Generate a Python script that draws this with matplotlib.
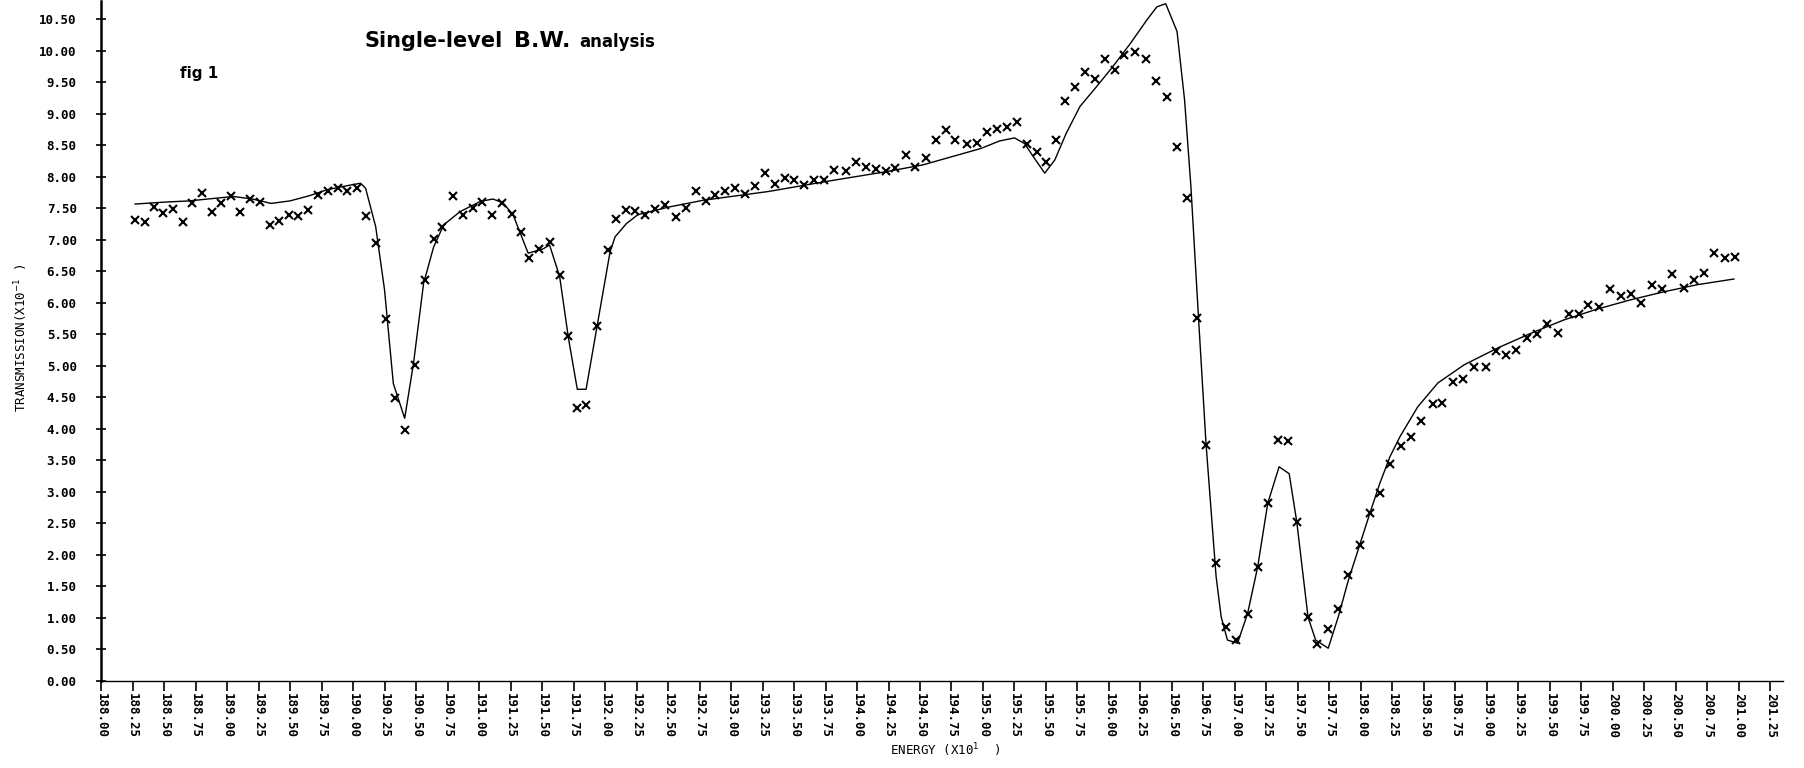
import numpy as np
import matplotlib
matplotlib.use("Agg")
import matplotlib.pyplot as plt

# measured transmission points (energy x10, transmission x10^-1)
energy = [
    188.27, 188.35, 188.42, 188.49, 188.57, 188.65, 188.72, 188.80, 188.88, 188.95,
    189.03, 189.10, 189.18, 189.26, 189.34, 189.41, 189.49, 189.56, 189.64, 189.72,
    189.80, 189.88, 189.95, 190.03, 190.10, 190.18, 190.26, 190.33, 190.41, 190.49,
    190.57, 190.64, 190.71, 190.79, 190.87, 190.95, 191.02, 191.10, 191.18, 191.26,
    191.33, 191.40, 191.48, 191.56, 191.64, 191.71, 191.78, 191.85, 191.94, 192.02,
    192.09, 192.17, 192.24, 192.32, 192.40, 192.48, 192.56, 192.64, 192.72, 192.80,
    192.87, 192.95, 193.03, 193.11, 193.19, 193.27, 193.35, 193.43, 193.50, 193.58,
    193.66, 193.74, 193.82, 193.91, 193.99, 194.07, 194.15, 194.23, 194.30, 194.39,
    194.46, 194.55, 194.63, 194.71, 194.78, 194.87, 194.95, 195.03, 195.11, 195.19,
    195.27, 195.35, 195.43, 195.50, 195.58, 195.65, 195.73, 195.81, 195.89, 195.97,
    196.05, 196.12, 196.21, 196.29, 196.37, 196.46, 196.54, 196.62, 196.70, 196.77,
    196.85, 196.93, 197.01, 197.10, 197.18, 197.26, 197.34, 197.42, 197.49, 197.58,
    197.65, 197.74, 197.82, 197.90, 197.99, 198.07, 198.15, 198.23, 198.32, 198.40,
    198.48, 198.57, 198.64, 198.73, 198.81, 198.90, 198.99, 199.07, 199.15, 199.23,
    199.32, 199.40, 199.48, 199.56, 199.65, 199.73, 199.80, 199.89, 199.98, 200.06,
    200.14, 200.22, 200.31, 200.39, 200.47, 200.56, 200.64, 200.72, 200.80, 200.89,
    200.97,
]
transmission = [
    7.31, 7.28, 7.53, 7.42, 7.49, 7.29, 7.58, 7.75, 7.44, 7.58,
    7.69, 7.44, 7.65, 7.61, 7.24, 7.30, 7.39, 7.38, 7.48, 7.72,
    7.77, 7.82, 7.77, 7.82, 7.38, 6.95, 5.75, 4.49, 3.98, 5.02,
    6.37, 7.02, 7.20, 7.69, 7.40, 7.50, 7.61, 7.40, 7.59, 7.41,
    7.13, 6.72, 6.85, 6.97, 6.44, 5.47, 4.33, 4.38, 5.64, 6.84,
    7.33, 7.48, 7.46, 7.40, 7.49, 7.56, 7.36, 7.50, 7.77, 7.62,
    7.71, 7.78, 7.82, 7.73, 7.86, 8.06, 7.89, 7.99, 7.95, 7.87,
    7.95, 7.95, 8.11, 8.10, 8.24, 8.16, 8.12, 8.10, 8.14, 8.35,
    8.16, 8.30, 8.58, 8.75, 8.59, 8.52, 8.54, 8.72, 8.76, 8.80,
    8.88, 8.53, 8.39, 8.24, 8.58, 9.20, 9.43, 9.67, 9.56, 9.87,
    9.69, 9.93, 9.99, 9.87, 9.52, 9.27, 8.47, 7.66, 5.76, 3.75,
    1.87, 0.86, 0.65, 1.07, 1.81, 2.82, 3.83, 3.81, 2.53, 1.01,
    0.58, 0.82, 1.15, 1.68, 2.16, 2.66, 2.98, 3.44, 3.73, 3.87,
    4.12, 4.40, 4.42, 4.74, 4.80, 4.99, 4.98, 5.23, 5.17, 5.25,
    5.45, 5.51, 5.66, 5.53, 5.83, 5.83, 5.97, 5.93, 6.22, 6.11,
    6.14, 6.00, 6.29, 6.22, 6.46, 6.23, 6.37, 6.48, 6.80, 6.72,
    6.73,
]

# single-level Breit-Wigner fit curve
fit_energy = [
    188.27, 188.50, 188.70, 188.90, 189.05, 189.20, 189.35, 189.50, 189.65, 189.80,
    189.95, 190.06, 190.10, 190.18, 190.25, 190.32, 190.41, 190.48, 190.56, 190.64,
    190.72, 190.85, 191.01, 191.11, 191.19, 191.27, 191.39, 191.51, 191.56, 191.64,
    191.71, 191.78, 191.85, 191.95, 192.04, 192.08, 192.17, 192.26, 192.50, 192.78,
    193.30, 193.76, 194.22, 194.52, 194.98, 195.13, 195.25, 195.33, 195.40, 195.49,
    195.57, 195.66, 195.77, 195.90, 196.03, 196.17, 196.30, 196.38, 196.45, 196.54,
    196.60, 196.65, 196.71, 196.77, 196.85, 196.89, 196.94, 197.02, 197.10, 197.18,
    197.26, 197.35, 197.43, 197.49, 197.58, 197.64, 197.74, 197.82, 197.90, 197.99,
    198.07, 198.15, 198.23, 198.31, 198.45, 198.61, 198.82, 199.09, 199.35, 199.61,
    199.87, 200.14, 200.41, 200.67, 200.96,
]
fit_transmission = [
    7.57, 7.60, 7.62, 7.66, 7.69, 7.65, 7.58, 7.62, 7.70, 7.80,
    7.86, 7.90, 7.82, 7.21, 6.21, 4.72, 4.17, 5.04, 6.31, 6.89,
    7.24, 7.45, 7.61, 7.65, 7.59, 7.40, 6.79, 6.86, 6.92, 6.42,
    5.44, 4.63, 4.63, 5.78, 6.81, 7.05, 7.26, 7.40, 7.52, 7.63,
    7.77, 7.93, 8.08, 8.19, 8.45, 8.57, 8.62, 8.53, 8.32, 8.06,
    8.27, 8.69, 9.12, 9.43, 9.75, 10.12, 10.49, 10.70, 10.75, 10.31,
    9.22, 7.85, 5.78, 3.77, 1.66, 1.02, 0.65, 0.60, 1.07, 1.81,
    2.82, 3.40, 3.29, 2.53, 1.01, 0.65, 0.52, 1.02, 1.60, 2.16,
    2.66, 3.14, 3.56, 3.88, 4.35, 4.73, 5.02, 5.29, 5.52, 5.73,
    5.90, 6.05, 6.18, 6.29, 6.38,
]

x_ticks = np.arange(188.0, 201.26, 0.25)
y_ticks = np.arange(0.0, 10.51, 0.5)

MONO = "DejaVu Sans Mono"

fig = plt.figure(figsize=(18.04, 7.68), dpi=100)
ax = fig.add_axes([0.056, 0.1133, 0.9324, 0.886])

ax.plot(fit_energy, fit_transmission, color="black", linewidth=1.0, clip_on=False)
ax.plot(energy, transmission, linestyle="none", marker="x", color="black",
        markersize=6, markeredgewidth=1.5)

ax.set_xlim(188.0, 201.35)
ax.set_ylim(0.0, 10.8)

# ─── axes look like an old pen plotter ─────────────
for side in ("top", "right"):
    ax.spines[side].set_visible(False)
ax.spines["left"].set_linewidth(1.8)
ax.spines["bottom"].set_linewidth(1.0)

ax.set_xticks(x_ticks)
ax.set_xticklabels([f"{v:.2f}" for v in x_ticks], rotation=270,
                   family=MONO, fontsize=9, fontweight="bold")
ax.set_yticks(y_ticks)
ax.set_yticklabels([f"{v:.2f}" for v in y_ticks],
                   family=MONO, fontsize=9, fontweight="bold")
ax.tick_params(axis="x", direction="out", length=7, width=1.2, pad=2)
ax.tick_params(axis="y", direction="inout", length=7, width=1.2, pad=14)

fig.text(0.0116, 0.56, "TRANSMISSION(X10$^{-1}$ )", rotation=90,
         ha="center", va="center", family=MONO, fontsize=9)
fig.text(0.524, 0.023, "ENERGY (X10$^{1}$  )", ha="center", va="center",
         family=MONO, fontsize=9)

# title pieces
fig.text(364 / 1804, 1 - 47 / 768, "Single-level", ha="left", va="baseline",
         fontsize=15, fontweight="bold")
fig.text(514 / 1804, 1 - 47 / 768, "B.W.", ha="left", va="baseline",
         fontsize=16, fontweight="bold")
fig.text(579 / 1804, 1 - 47 / 768, "analysis", ha="left", va="baseline",
         fontsize=12, fontweight="bold")
fig.text(180 / 1804, 1 - 78 / 768, "fig 1", ha="left", va="baseline",
         fontsize=11, fontweight="bold")

fig.savefig("out.png", dpi=100, facecolor="white")
